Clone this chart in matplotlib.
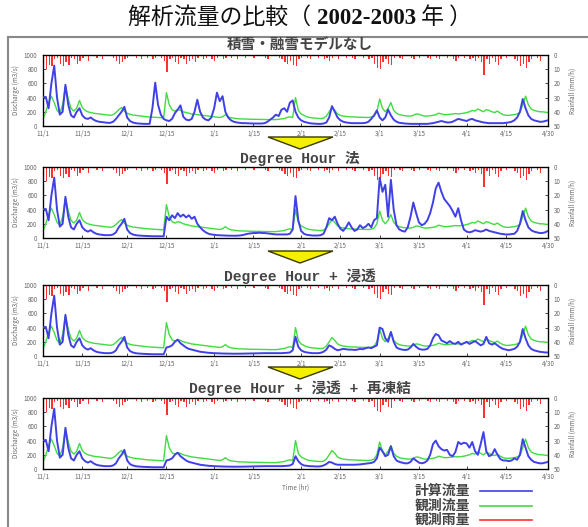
import numpy as np
import matplotlib
matplotlib.use('Agg')
import matplotlib.pyplot as plt
from matplotlib.lines import Line2D
from matplotlib.patches import Polygon

plt.rcParams['font.family'] = ['Noto Sans CJK JP', 'DejaVu Sans']

# 2002/11/1 - 2003/4/30, daily values (m3/s)
obs_flow = [
    # Nov
    100, 200, 330, 420, 330, 220, 180, 300, 560, 380, 250, 210, 250, 360, 260,
    220, 200, 190, 180, 175, 170, 165, 160, 155, 150, 160, 190, 230, 260, 210,
    # Dec
    180, 165, 155, 150, 145, 140, 135, 130, 128, 125, 122, 120, 118, 115, 470,
    300, 230, 210, 230, 220, 200, 190, 180, 170, 165, 160, 155, 150, 145, 140, 135,
    # Jan
    130, 125, 120, 130, 160, 130, 115, 110, 105, 100, 100, 98, 96, 95, 95,
    94, 93, 92, 92, 91, 90, 90, 90, 95, 100, 105, 120, 130, 120, 400, 220,
    # Feb
    170, 150, 130, 120, 115, 110, 108, 105, 110, 140, 200, 260, 220, 170,
    150, 140, 135, 130, 128, 125, 125, 123, 122, 120, 120, 125, 140, 200,
    # Mar
    380, 250, 200, 250, 330, 220, 180, 160, 150, 145, 140, 140, 150, 170, 165,
    150, 140, 140, 145, 150, 160, 180, 170, 160, 160, 165, 170, 175, 170, 175, 180,
    # Apr
    190, 200, 220, 210, 240, 220, 200, 230, 220, 200, 190, 210, 180, 160, 150,
    150, 155, 160, 170, 190, 300, 420, 300, 240, 220, 210, 200, 200, 195, 190,
]

# computed flow, no snow model
calc_none = [
    400, 410, 250, 600, 850, 400, 160, 200, 580, 300, 150, 120, 200, 250, 150,
    110, 100, 120, 90, 70, 60, 55, 50, 45, 45, 60, 100, 150, 200, 270,
    120, 70, 50, 40, 35, 32, 30, 30, 30, 250, 610, 300, 160, 100, 80,
    70, 100, 180, 230, 290, 130, 90, 80, 100, 200, 370, 200, 120, 90, 80, 120,
    250, 470, 350, 420, 200, 120, 80, 60, 50, 45, 40, 40, 38, 36, 35,
    35, 35, 35, 40, 60, 90, 120, 160, 140, 230, 250, 200, 330, 360, 200, 120,
    80, 60, 50, 40, 35, 32, 30, 30, 35, 50, 120, 280, 200, 120,
    80, 60, 50, 45, 40, 40, 40, 40, 40, 45, 60, 100, 150, 220,
    120, 80, 120, 230, 150, 90, 60, 45, 40, 35, 32, 30, 30, 30, 30,
    30, 30, 30, 35, 40, 50, 60, 70, 60, 50, 50, 60, 80, 100, 90, 80,
    70, 90, 100, 80, 70, 60, 50, 45, 40, 40, 40, 40, 40, 40, 45,
    50, 60, 80, 120, 200, 380, 250, 150, 100, 80, 70, 60, 60, 70, 80,
]

# Degree Hour
calc_dh = [
    400, 410, 250, 600, 850, 400, 160, 200, 580, 300, 150, 120, 200, 250, 150,
    110, 90, 110, 80, 60, 50, 45, 40, 40, 40, 50, 80, 150, 200, 270,
    120, 70, 50, 40, 35, 32, 30, 28, 26, 25, 25, 24, 24, 24, 300,
    250, 320, 280, 350, 300, 330, 290, 320, 270, 300, 200, 150, 110, 80, 60, 50,
    45, 40, 38, 35, 34, 33, 32, 32, 32, 35, 40, 50, 60, 65, 70,
    70, 75, 70, 70, 65, 60, 55, 50, 50, 50, 50, 50, 60, 120, 590, 250,
    100, 60, 45, 40, 35, 35, 35, 40, 60, 150, 280, 250, 300, 200,
    130, 100, 150, 220, 150, 100, 120, 180, 140, 160, 200, 150, 250, 280,
    850, 650, 750, 300, 820, 400, 180, 120, 100, 90, 150, 300, 500, 350, 220,
    180, 200, 250, 350, 500, 700, 780, 650, 550, 500, 450, 380, 300, 420, 250, 120,
    90, 80, 90, 110, 100, 90, 100, 120, 100, 90, 80, 70, 60, 55, 50,
    50, 55, 60, 100, 200, 380, 250, 150, 110, 90, 80, 70, 70, 80, 100,
]

# Degree Hour + infiltration
calc_dh_inf = [
    400, 410, 250, 600, 850, 400, 160, 200, 580, 300, 150, 120, 200, 250, 150,
    110, 90, 110, 80, 60, 50, 45, 40, 40, 40, 50, 80, 150, 200, 270,
    120, 70, 50, 40, 35, 32, 30, 28, 26, 25, 25, 24, 24, 24, 120,
    130, 150, 200, 230, 180, 150, 120, 100, 90, 80, 70, 60, 55, 50, 45, 42,
    40, 38, 36, 35, 34, 33, 32, 32, 32, 32, 33, 34, 35, 36, 38,
    38, 40, 40, 40, 40, 40, 40, 40, 40, 40, 42, 45, 50, 80, 270, 130,
    80, 60, 50, 45, 40, 40, 40, 45, 60, 90, 150, 130, 100, 80,
    90, 100, 95, 90, 90, 85, 90, 100, 95, 110, 120, 110, 130, 150,
    400, 380, 250, 200, 340, 200, 120, 100, 90, 85, 90, 120, 170, 130, 100,
    90, 90, 100, 150, 250, 310, 290, 220, 200, 180, 210, 180, 170, 200, 160, 180,
    200, 170, 190, 210, 180, 150, 170, 270, 180, 160, 180, 150, 120, 100, 90,
    80, 90, 100, 130, 200, 380, 250, 150, 100, 80, 70, 60, 55, 50, 50,
]

# Degree Hour + infiltration + refreezing
calc_dh_inf_rf = [
    400, 410, 250, 600, 850, 400, 160, 200, 580, 300, 150, 120, 200, 250, 150,
    110, 90, 110, 80, 60, 50, 45, 40, 40, 40, 50, 80, 150, 200, 270,
    120, 70, 50, 40, 35, 32, 30, 28, 26, 25, 25, 24, 24, 24, 120,
    130, 150, 200, 230, 180, 150, 120, 100, 90, 80, 70, 60, 55, 50, 45, 42,
    40, 38, 36, 35, 34, 33, 32, 32, 32, 32, 33, 34, 35, 36, 38,
    38, 40, 40, 40, 40, 40, 40, 40, 40, 40, 42, 45, 50, 70, 180, 110,
    70, 50, 45, 40, 38, 36, 35, 38, 50, 70, 100, 90, 70, 60,
    60, 60, 60, 60, 60, 60, 62, 65, 70, 75, 80, 85, 100, 150,
    300, 250, 180, 200, 320, 180, 120, 100, 90, 80, 80, 100, 150, 120, 90,
    80, 90, 120, 200, 350, 400, 320, 280, 260, 270, 200, 180, 240, 380, 350, 370,
    360, 300, 380, 250, 200, 350, 520, 250, 180, 200, 280, 200, 140, 120, 120,
    110, 120, 150, 130, 200, 420, 300, 180, 130, 100, 90, 80, 80, 90, 100,
]

# observed rainfall (mm/h)
rain = [
    9, 10, 7, 8, 3, 2, 6, 8, 5, 7, 2, 3, 6, 4, 2,
    1, 4, 1, 0, 2, 0, 3, 1, 0, 1, 2, 4, 6, 5, 3,
    2, 1, 0, 2, 1, 3, 1, 2, 0, 3, 2, 1, 2, 4, 12,
    3, 2, 5, 6, 2, 3, 6, 4, 3, 5, 2, 1, 3, 2, 1, 3,
    4, 2, 1, 3, 2, 1, 2, 1, 3, 1, 0, 2, 1, 0, 2,
    1, 1, 0, 2, 3, 1, 0, 1, 2, 3, 5, 6, 4, 7, 8, 3,
    2, 1, 2, 3, 1, 0, 2, 1, 3, 2, 4, 2, 1, 3,
    1, 0, 2, 1, 2, 3, 1, 0, 2, 1, 3, 2, 6, 9,
    10, 5, 3, 6, 7, 2, 1, 2, 3, 1, 0, 2, 3, 1, 2,
    0, 1, 2, 3, 1, 2, 3, 1, 0, 2, 1, 3, 4, 2, 1, 2,
    1, 3, 2, 4, 2, 5, 14, 3, 6, 2, 5, 7, 3, 1, 2,
    0, 1, 3, 4, 8, 6, 9, 5, 3, 1, 2, 4, 1, 0, 1,
]

panel_titles = ['積雪・融雪モデルなし', 'Degree Hour 法',
                'Degree Hour + 浸透', 'Degree Hour + 浸透 + 再凍結']
tick_days = [0, 14, 30, 44, 61, 75, 92, 106, 120, 134, 151, 165, 180]
tick_labels = ['11/1', '11/15', '12/1', '12/15', '1/1', '1/15', '2/1',
               '2/15', '3/1', '3/15', '4/1', '4/15', '4/30']
legend_labels = ['計算流量', '観測流量', '観測雨量']

BLUE = '#4040e8'
GREEN = '#40dc40'
RED = '#ff3030'
W, H = 588, 527

fig = plt.figure(figsize=(W / 100, H / 100), dpi=100)
days = np.arange(len(obs_flow))

# axes rows in pixel coordinates (top, bottom)
rows = [(55, 126), (167, 238), (285, 356), (398, 469)]
title_y = [46, 158, 276, 388]
left, right = 43, 548

for i, calc in enumerate([calc_none, calc_dh, calc_dh_inf, calc_dh_inf_rf]):
    top, bot = rows[i]
    ax = fig.add_axes([left / W, 1 - bot / H, (right - left) / W, (bot - top) / H])
    ax.plot(days, obs_flow, color=GREEN, lw=1.0, zorder=2)
    ax.plot(days, calc, color=BLUE, lw=1.4, zorder=3)
    ax.set_xlim(0, 180)
    ax.set_ylim(0, 1000)
    ax.set_yticks([0, 200, 400, 600, 800, 1000])
    ax.set_xticks(tick_days)
    ax.set_xticklabels(tick_labels)
    ax.tick_params(axis='y', labelsize=4.5, labelcolor='#666', direction='in',
                   length=2, width=0.5, pad=4)
    ax.tick_params(axis='x', labelsize=4.5, labelcolor='#666', direction='in',
                   length=2, width=0.5, pad=3)
    ax.set_ylabel('Discharge (m3/s)', fontsize=4.5, color='#666', labelpad=3)
    for s in ax.spines.values():
        s.set_linewidth(0.9)

    ax2 = ax.twinx()
    ax2.bar(days, rain, width=0.45, color=RED, align='edge', zorder=1)
    ax2.set_ylim(50, 0)
    ax2.set_yticks([0, 10, 20, 30, 40, 50])
    ax2.tick_params(labelsize=4.5, labelcolor='#666', direction='in', length=2,
                    width=0.5, pad=4)
    ax2.set_ylabel('Rainfall (mm/h)', fontsize=4.5, color='#666', labelpad=6)
    ax.set_zorder(ax2.get_zorder() + 1)
    ax.patch.set_visible(False)

    if i == 3:
        ax.set_xlabel('Time (hr)', fontsize=4.5, color='#666', labelpad=2)

    fig.text(300 / W, 1 - title_y[i] / H, panel_titles[i], ha='center', va='center',
             fontsize=10.5, fontweight='bold', color='#444',
             family=['Liberation Mono', 'Noto Sans CJK JP'])

# yellow arrows between panels
for y0 in [137, 251, 367]:
    tri = Polygon([(268 / W, 1 - y0 / H), (333 / W, 1 - y0 / H),
                   (300 / W, 1 - (y0 + 12) / H)], closed=True,
                  facecolor='#f4f000', edgecolor='#3a3a00', lw=1.0,
                  transform=fig.transFigure)
    fig.add_artist(tri)

# outer frame (left and top edges)
fig.add_artist(Line2D([8 / W, 8 / W], [0, 1 - 37 / H], color='#888', lw=1.5))
fig.add_artist(Line2D([8 / W, 1], [1 - 37 / H, 1 - 37 / H], color='#888', lw=1.5))

# main title, digits in bold serif, laid out piece by piece
renderer = fig.canvas.get_renderer()
parts = [('解析流量の比較（ ', {}),
         ('2002-2003', dict(family='Liberation Serif', fontweight='bold')),
         (' 年 ）', {})]
pieces = []
for txt, kw in parts:
    t = fig.text(0, 1 - 24 / H, txt, ha='left', va='baseline', fontsize=16.5,
                 color='#111', **kw)
    pieces.append(t)
widths = [t.get_window_extent(renderer).width for t in pieces]
x = 300 - sum(widths) / 2
for t, w in zip(pieces, widths):
    t.set_x(x / W)
    x += w

# legend
for k, (lab, c) in enumerate(zip(legend_labels, [BLUE, GREEN, RED])):
    y = 1 - (491 + 14.5 * k) / H
    fig.text(470 / W, y, lab, ha='right', va='center', fontsize=10,
             fontweight='bold', color='#444')
    fig.add_artist(Line2D([480 / W, 532 / W], [y, y], color=c, lw=1.2))

fig.savefig('out.png', dpi=100)
